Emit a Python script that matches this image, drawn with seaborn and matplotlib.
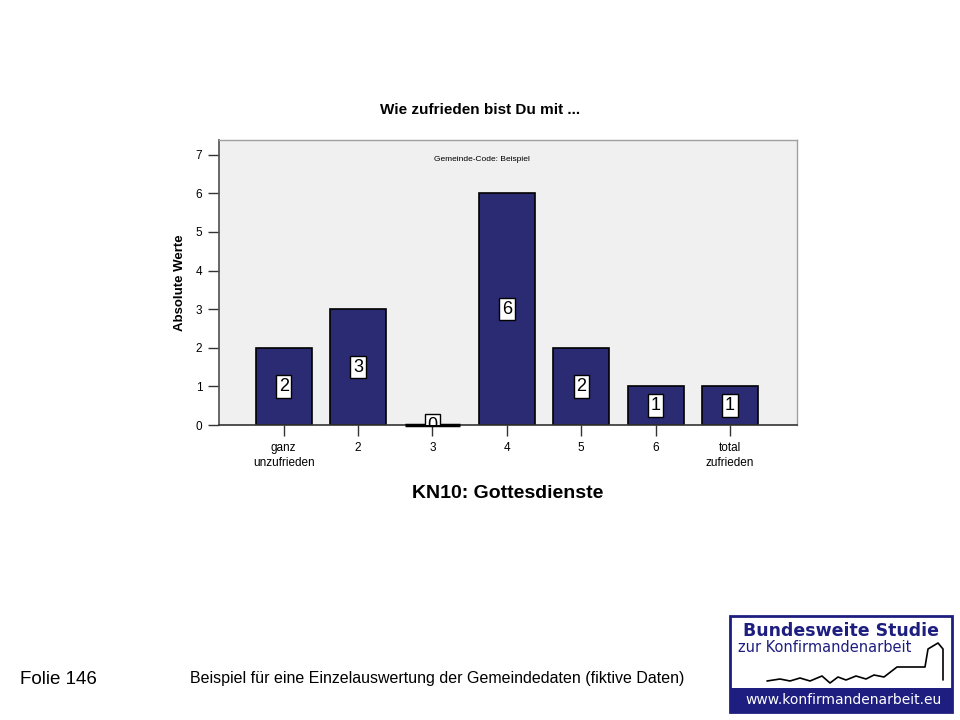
import matplotlib
matplotlib.use("Agg")
import matplotlib.pyplot as plt
import seaborn as sns
import pandas as pd
from matplotlib.patches import Rectangle
from matplotlib.lines import Line2D

# Daten aus der Grafik
kategorien = ["ganz\nunzufrieden", "2", "3", "4", "5", "6", "total\nzufrieden"]
werte = [2, 3, 0, 6, 2, 1, 1]
y_ticks = [0, 1, 2, 3, 4, 5, 6, 7]

df = pd.DataFrame({"kategorie": kategorien, "anzahl": werte})

sns.set_theme(style="white")
plt.rcParams["font.family"] = ["Liberation Sans", "DejaVu Sans"]
plt.rcParams["text.color"] = "black"
plt.rcParams["axes.labelcolor"] = "black"
plt.rcParams["xtick.color"] = "black"
plt.rcParams["ytick.color"] = "black"

fig = plt.figure(figsize=(9.6, 7.2), dpi=100)
ax = fig.add_axes([219 / 960, 1 - 425 / 720, (797 - 219) / 960, (425 - 140) / 720])
ax.set_facecolor("#f0f0f0")

sns.barplot(data=df, x="kategorie", y="anzahl", color="#2b2b73", edgecolor="black",
            linewidth=1.2, width=0.75, saturation=1, ax=ax)

# Balken mit Hoehe 0 als dicke Linie
for p in ax.patches:
    if p.get_height() == 0:
        ax.plot([p.get_x(), p.get_x() + p.get_width()], [0, 0], color="black",
                lw=2.5, solid_capstyle="butt", clip_on=False, zorder=3)

# Werte-Labels in weissen Kaestchen, mittig im Balken
labels = ax.bar_label(ax.containers[0], label_type="center", fontsize=13,
                      bbox=dict(boxstyle="square,pad=0.15", fc="white", ec="black", lw=1))
for t in labels:
    t.set_clip_on(True)
    t.set_clip_box(ax.bbox)
    t.set_zorder(4)

ax.set_xlim(-0.87, 6.9)
ax.set_ylim(0, 7.38)
ax.set_yticks(y_ticks)
ax.tick_params(axis="both", which="both", direction="out", length=8, width=1,
               color="#333333", labelsize=8.5, bottom=True, left=True, pad=4)
for lab in ax.get_xticklabels():
    lab.set_linespacing(1.35)
for side in ["top", "right"]:
    ax.spines[side].set_color("#a0a0a0")
    ax.spines[side].set_linewidth(1)
ax.spines["left"].set_color("#555555")
ax.spines["bottom"].set_color("#333333")
ax.spines["bottom"].set_linewidth(1.2)

ax.set_xlabel("KN10: Gottesdienste", fontsize=14, fontweight="bold", labelpad=12)
ax.set_ylabel("Absolute Werte", fontsize=9.5, fontweight="bold", labelpad=7)
fig.text(480 / 960, 1 - 110 / 720, "Wie zufrieden bist Du mit ...", fontsize=11,
         fontweight="bold", ha="center", va="center")
ax.text(0.455, 0.93, "Gemeinde-Code: Beispiel", transform=ax.transAxes,
        fontsize=6, ha="center", va="center")

# Fusszeile
fig.text(20 / 960, 1 - 679 / 720, "Folie 146", fontsize=13.5, va="center")
fig.text(437 / 960, 1 - 679 / 720,
         "Beispiel für eine Einzelauswertung der Gemeindedaten (fiktive Daten)",
         fontsize=11.5, ha="center", va="center")

# Logo rechts unten
blau = "#1e1e80"
x0, y0, w, h = 730 / 960, 1 - 712 / 720, 222 / 960, 96 / 720
fig.patches.append(Rectangle((x0, y0), w, h, transform=fig.transFigure,
                             fc="white", ec=blau, lw=2))
fig.patches.append(Rectangle((x0, y0), w, 24 / 720, transform=fig.transFigure,
                             fc=blau, ec=blau, lw=0))
fig.text(841 / 960, 1 - 631 / 720, "Bundesweite Studie", fontsize=12.5,
         fontweight="bold", color=blau, ha="center", va="center",
         family="DejaVu Sans")
fig.text(738 / 960, 1 - 647 / 720, "zur Konfirmandenarbeit", fontsize=10.5,
         color=blau, ha="left", va="center", family="DejaVu Sans")
fig.text(844 / 960, 1 - 700 / 720, "www.konfirmandenarbeit.eu", fontsize=10,
         color="white", ha="center", va="center", family="DejaVu Sans")
# Linie im Logo (Dekoration)
lx = [767, 780, 790, 800, 810, 822, 830, 838, 846, 856, 866, 874, 884, 897, 925, 928, 938, 943, 943]
ly = [681, 679, 681, 678, 681, 676, 683, 677, 680, 676, 679, 675, 677, 667, 667, 649, 643, 649, 680]
fig.add_artist(Line2D([x / 960 for x in lx], [1 - y / 720 for y in ly],
                      transform=fig.transFigure, color="black", lw=1.2))

fig.savefig("out.png", dpi=100, facecolor="white")
